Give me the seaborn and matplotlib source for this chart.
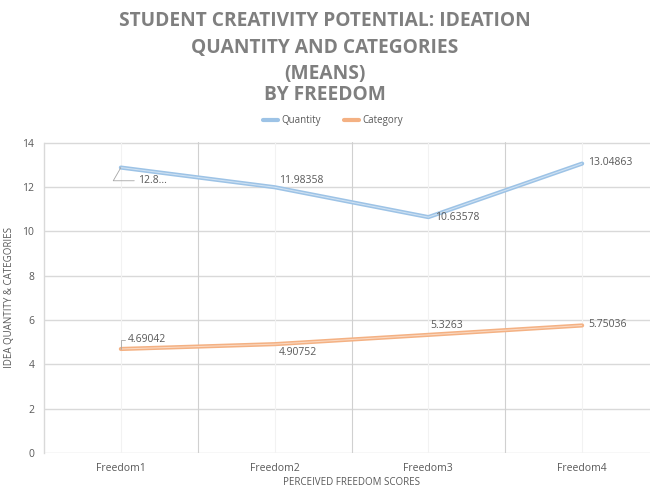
import matplotlib
matplotlib.use("Agg")
import matplotlib.pyplot as plt
from matplotlib.lines import Line2D
import seaborn as sns
import pandas as pd

# Mean ideation scores by perceived freedom level
categories = ["Freedom1", "Freedom2", "Freedom3", "Freedom4"]
quantity = [12.87, 11.98358, 10.63578, 13.04863]
category = [4.69042, 4.90752, 5.3263, 5.75036]
quantity_labels = ["12.8...", "11.98358", "10.63578", "13.04863"]
category_labels = ["4.69042", "4.90752", "5.3263", "5.75036"]
series_names = ["Quantity", "Category"]
y_ticks = [0, 2, 4, 6, 8, 10, 12, 14]
title_lines = ["STUDENT CREATIVITY POTENTIAL: IDEATION",
               "QUANTITY AND CATEGORIES", "(MEANS)", "BY FREEDOM"]

df = pd.DataFrame({
    "freedom": categories * 2,
    "value": quantity + category,
    "series": [series_names[0]] * 4 + [series_names[1]] * 4,
})

sns.set_theme(style="white")
plt.rcParams["font.family"] = ["Open Sans", "DejaVu Sans"]

BLUE = "#9DC3E6"
ORANGE = "#F4B183"
TXT = "#595959"
GRID = "#D9D9D9"

W, H = 650, 490
fig = plt.figure(figsize=(W / 100, H / 100), dpi=100)
ax = fig.add_axes([44 / W, 37 / H, 615 / W, 310.5 / H])

sns.lineplot(data=df, x="freedom", y="value", hue="series", sort=False,
             palette=[BLUE, ORANGE], linewidth=3.0, ax=ax, legend=False)
# pale centre stripe for a double-line look
for vals in (quantity, category):
    ax.plot(range(len(categories)), vals, color="white", linewidth=0.8,
            alpha=0.5, solid_capstyle="butt", zorder=3)

ax.set_xlim(-0.5, len(categories) - 0.5)
ax.set_ylim(0, 14)
ax.set_yticks(y_ticks)
ax.set_xticks(range(len(categories)))
ax.set_xticklabels(categories)

# gridlines: horizontal majors, vertical lines between categories, faint at centres
for y in y_ticks:
    ax.axhline(y, color=GRID, linewidth=1.0, zorder=0)
for xb in (0.5, 1.5, 2.5):
    ax.axvline(xb, color="#D0D0D0", linewidth=0.8, zorder=0)
for xc in range(len(categories)):
    ax.axvline(xc, color="#F2F2F2", linewidth=0.8, zorder=0)

for s in ["top", "right", "bottom"]:
    ax.spines[s].set_visible(False)
ax.spines["left"].set_color(GRID)
ax.spines["left"].set_linewidth(1.0)

ax.tick_params(axis="y", length=0, labelsize=7.5, labelcolor=TXT, pad=7)
ax.tick_params(axis="x", length=0, labelsize=7.5, labelcolor=TXT, pad=7)
ax.set_xlabel("PERCEIVED FREEDOM SCORES", fontsize=7, color=TXT, labelpad=2)
ax.set_ylabel("IDEA QUANTITY & CATEGORIES", fontsize=7, color=TXT, labelpad=5)

lab_kw = dict(fontsize=7.5, color=TXT, zorder=5, textcoords="offset points",
              va="center")
leader = dict(arrowstyle="-", color="#A6A6A6", lw=0.6, shrinkA=0, shrinkB=0)

# Quantity labels
ax.annotate(quantity_labels[0], (0, quantity[0]), xytext=(12, -9.5), ha="left",
            arrowprops=dict(connectionstyle="angle,angleA=0,angleB=60,rad=0",
                            **leader), **lab_kw)
ax.annotate(quantity_labels[1], (1, quantity[1]), xytext=(19, 4.5), ha="center",
            **lab_kw)
ax.annotate(quantity_labels[2], (2, quantity[2]), xytext=(4.5, -0.5), ha="left",
            **lab_kw)
ax.annotate(quantity_labels[3], (3, quantity[3]), xytext=(4.5, 0.5), ha="left",
            **lab_kw)
# Category labels
ax.annotate(category_labels[0], (0, category[0]), xytext=(5, 6.5), ha="left",
            arrowprops=dict(connectionstyle="angle,angleA=0,angleB=90,rad=0",
                            **leader), **lab_kw)
ax.annotate(category_labels[1], (1, category[1]), xytext=(17, -6), ha="center",
            **lab_kw)
ax.annotate(category_labels[2], (2, category[2]), xytext=(13.5, 6.5), ha="center",
            **lab_kw)
ax.annotate(category_labels[3], (3, category[3]), xytext=(4.5, 0.5), ha="left",
            **lab_kw)

# Title, one line at a time
for line, base in zip(title_lines, [26, 52.5, 79, 100]):
    fig.text(0.5, 1 - base / H, line, ha="center", va="baseline", fontsize=13.8,
             fontweight="bold", color="#7F7F7F")

# Legend
handles = [Line2D([], [], color=BLUE, lw=3), Line2D([], [], color=ORANGE, lw=3)]
fig.legend(handles, series_names, loc="center", bbox_to_anchor=(0.512, 1 - 121 / H),
           ncol=2, frameon=False, fontsize=7, labelcolor=TXT, handlelength=1.6,
           handletextpad=0.3, columnspacing=2.4)

fig.savefig("out.png", dpi=100)
